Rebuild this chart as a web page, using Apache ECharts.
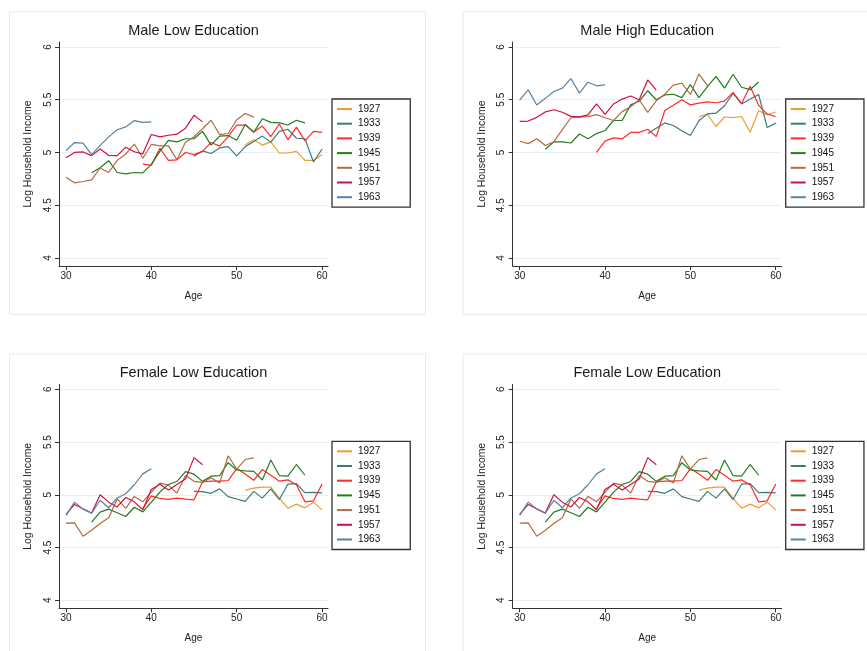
<!DOCTYPE html>
<html><head><meta charset="utf-8">
<script src="https://cdn.jsdelivr.net/npm/echarts@6/dist/echarts.min.js"></script>
<style>html,body{margin:0;padding:0;background:#fff}#c{width:867px;height:651px}</style>
</head><body><div id="c"></div><script>
// ---- data ----
const cohorts = ['1927','1933','1939','1945','1951','1957','1963'];
const startAge = [51,45,39,33,30,30,30];
const xTicks = [30,40,50,60];
const yTicks = [4,4.5,5,5.5,6];
const panelTitles = ['Male Low Education','Male High Education','Female Low Education','Female Low Education'];

const maleLow1927 = [5.07,5.12,5.07,5.10,4.995,4.995,5.01,4.925,4.925,4.98];
const maleLow1933 = [4.965,5.015,4.99,5.043,5.055,4.968,5.055,5.103,5.155,5.098,5.2,5.22,5.135,5.13,4.91,5.033];
const maleLow1939 = [4.89,4.88,5.04,4.925,4.93,5.0,4.98,5.01,5.095,5.06,5.15,5.26,5.26,5.195,5.25,5.15,5.27,5.12,5.24,5.11,5.2,5.19];
const maleLow1945 = [4.808,4.855,4.922,4.81,4.797,4.81,4.807,4.887,5.01,5.115,5.1,5.13,5.13,5.2,5.07,5.155,5.16,5.115,5.265,5.19,5.32,5.285,5.28,5.26,5.305,5.28];
const maleLow1951 = [4.766,4.712,4.725,4.74,4.853,4.81,4.925,4.985,5.08,4.945,5.076,5.063,5.063,4.93,5.097,5.15,5.225,5.305,5.17,5.18,5.31,5.37,5.335];
const maleLow1957 = [4.95,5.0,5.005,4.97,5.033,4.973,4.97,5.05,5.007,4.987,5.17,5.148,5.163,5.173,5.23,5.352,5.29];
const maleLow1963 = [5.018,5.094,5.088,4.98,5.067,5.148,5.215,5.242,5.302,5.285,5.29];

const maleHigh1927 = [5.34,5.362,5.246,5.336,5.33,5.341,5.192,5.396,5.357,5.384];
const maleHigh1933 = [5.179,5.23,5.28,5.256,5.205,5.161,5.30,5.366,5.372,5.443,5.559,5.46,5.507,5.548,5.236,5.278];
const maleHigh1939 = [5.0,5.108,5.138,5.128,5.19,5.19,5.22,5.15,5.398,5.448,5.5,5.451,5.467,5.479,5.471,5.487,5.569,5.464,5.628,5.446,5.364,5.341];
const maleHigh1945 = [5.03,5.1,5.1,5.09,5.175,5.13,5.179,5.208,5.303,5.303,5.451,5.485,5.585,5.5,5.546,5.552,5.52,5.643,5.52,5.623,5.722,5.61,5.741,5.618,5.595,5.668];
const maleHigh1951 = [5.106,5.084,5.13,5.066,5.102,5.216,5.329,5.334,5.34,5.359,5.329,5.303,5.387,5.434,5.5,5.38,5.49,5.552,5.638,5.656,5.55,5.743,5.633];
const maleHigh1957 = [5.295,5.298,5.333,5.384,5.405,5.381,5.342,5.337,5.357,5.46,5.362,5.46,5.506,5.535,5.5,5.687,5.59];
const maleHigh1963 = [5.495,5.593,5.45,5.513,5.578,5.61,5.70,5.562,5.666,5.632,5.64];

const femaleLow1927 = [5.044,5.063,5.072,5.072,4.965,4.873,4.911,4.876,4.93,4.857];
const femaleLow1933 = [5.032,5.03,5.014,5.056,4.982,4.96,4.938,5.032,4.968,5.056,4.955,5.1,5.106,5.02,5.023,5.018];
const femaleLow1939 = [4.87,4.99,4.965,4.957,4.968,4.958,4.952,5.121,5.13,5.13,5.135,5.248,5.196,5.137,5.239,5.186,5.129,5.141,5.094,4.933,4.943,5.101];
const femaleLow1945 = [4.74,4.835,4.864,4.83,4.794,4.882,4.838,4.93,5.025,5.097,5.126,5.22,5.195,5.127,5.176,5.181,5.304,5.235,5.227,5.222,5.14,5.33,5.182,5.176,5.287,5.185];
const femaleLow1951 = [4.732,4.734,4.607,4.663,4.727,4.783,4.961,4.871,4.984,4.933,5.025,5.11,5.092,5.016,5.182,5.127,5.117,5.162,5.112,5.37,5.243,5.334,5.35];
const femaleLow1957 = [4.815,4.908,4.868,4.827,5.0,4.93,4.885,4.974,4.933,4.858,5.05,5.1,5.045,5.098,5.15,5.352,5.284];
const femaleLow1963 = [4.805,4.93,4.863,4.825,4.948,4.877,4.97,5.01,5.095,5.198,5.246];

const maleLow = [maleLow1927,maleLow1933,maleLow1939,maleLow1945,maleLow1951,maleLow1957,maleLow1963];
const maleHigh = [maleHigh1927,maleHigh1933,maleHigh1939,maleHigh1945,maleHigh1951,maleHigh1957,maleHigh1963];
const femaleLow = [femaleLow1927,femaleLow1933,femaleLow1939,femaleLow1945,femaleLow1951,femaleLow1957,femaleLow1963];
const panelData = [maleLow, maleHigh, femaleLow, femaleLow];

// ---- style ----
const colors = ['#F09A30','#3A7C78','#FF2A2A','#1E7E1E','#B46A40','#CC1244','#5A82A2'];
const FONT = '"Liberation Sans", Arial, sans-serif';
const offsets = [[0,0],[453.7,0],[0,342.3],[453.7,342.3]];

const grid=[], xAxis=[], yAxis=[], title=[], legend=[], series=[], graphic=[];
offsets.forEach(([ox,oy],i)=>{
  graphic.push({type:'rect', silent:true, shape:{x:9.5+ox,y:11.7+oy,width:416,height:302.6},
    style:{fill:'none',stroke:'#e4eded',lineWidth:1}});
  grid.push({left:59+ox, top:42+oy, width:269, height:224});
  xAxis.push({type:'value', gridIndex:i, min:29.18, max:60.7,
    axisLine:{onZero:false, lineStyle:{color:'#333',width:1}},
    axisTick:{customValues:xTicks, length:4, lineStyle:{color:'#333'}},
    axisLabel:{customValues:xTicks, fontSize:10, color:'#222', margin:5, fontFamily:FONT},
    splitLine:{show:false},
    name:'Age', nameLocation:'middle', nameGap:25,
    nameTextStyle:{fontSize:10, color:'#222', fontFamily:FONT}});
  yAxis.push({type:'value', gridIndex:i, min:3.924, max:6.047,
    axisLine:{show:true, onZero:false, lineStyle:{color:'#333',width:1}},
    axisTick:{show:true, customValues:yTicks, length:4, lineStyle:{color:'#333'}},
    axisLabel:{customValues:yTicks, rotate:90, fontSize:10, color:'#222', margin:6, fontFamily:FONT,
      formatter:v=>String(v)},
    splitLine:{show:true, lineStyle:{color:'#e6eff1',width:1}},
    name:'Log Household Income', nameLocation:'middle', nameGap:26,
    nameTextStyle:{fontSize:10.4, color:'#222', fontFamily:FONT}});
  title.push({text:panelTitles[i], left:193.5+ox, top:23.5+oy, textAlign:'center', padding:0,
    textStyle:{fontSize:14.5, fontWeight:'normal', color:'#1a1a1a', fontFamily:FONT}});
  legend.push({data:cohorts, orient:'vertical', left:332+ox, top:99+oy,
    icon:'rect', itemWidth:15, itemHeight:2, itemGap:2.7,
    padding:[4,30,4,5], borderColor:'#333', borderWidth:1.3, backgroundColor:'#fff',
    textStyle:{fontSize:10, lineHeight:12, color:'#111', fontFamily:FONT, padding:[0,0,0,1]},
    selectedMode:false});
  panelData[i].forEach((vals,k)=>{
    series.push({type:'line', name:cohorts[k], xAxisIndex:i, yAxisIndex:i,
      showSymbol:false, symbol:'none', color:colors[k],
      lineStyle:{width:1.2, color:colors[k]},
      data: vals.map((v,j)=>[startAge[k]+j, v])});
  });
});

const chart = echarts.init(document.getElementById('c'), null, {renderer:'canvas'});
chart.setOption({animation:false, backgroundColor:'#fff', grid, xAxis, yAxis, title, legend, series, graphic});
</script></body></html>
